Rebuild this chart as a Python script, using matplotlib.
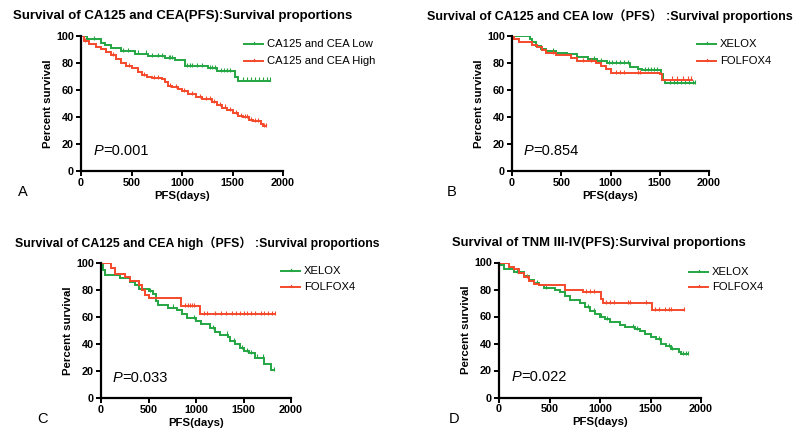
import numpy as np
import matplotlib
matplotlib.use("Agg")
import matplotlib.pyplot as plt
from matplotlib.lines import Line2D

plt.rcParams['font.family'] = ['Liberation Sans', 'Noto Sans CJK SC', 'DejaVu Sans']

GREEN = '#23a641'
RED = '#f5492b'

# ---------------- data (step times in days, survival in %) ----------------
# Panel A
A_low_t = [0, 60, 200, 240, 300, 400, 530, 660, 830, 930, 1025, 1260, 1350, 1525, 1550, 1870]
A_low_s = [100, 98, 95, 93, 91, 89, 87, 85, 83.5, 82, 78, 76, 74, 70, 67, 67]
A_low_c = [130, 420, 470, 560, 640, 700, 760, 800, 870, 880, 900, 1050, 1080, 1100, 1150, 1200, 1280, 1300, 1330, 1390, 1420, 1450, 1480, 1600, 1640, 1680, 1720, 1760, 1800, 1840, 1870]
A_high_t = [0, 30, 80, 150, 200, 250, 300, 350, 400, 450, 500, 560, 600, 650, 700, 800, 830, 860, 900, 960, 1000, 1060, 1140, 1200, 1300, 1350, 1400, 1450, 1500, 1550, 1600, 1660, 1700, 1780, 1800, 1830]
A_high_s = [100, 96, 94, 92, 90, 88, 86, 83, 80, 78, 76, 73, 71, 70, 69, 68, 66, 63, 62, 61, 59, 57, 55, 53, 51, 49, 47, 45, 43, 41, 40, 38, 37, 35, 33, 33]
A_high_c = [40, 320, 480, 620, 720, 760, 880, 940, 1020, 1100, 1180, 1240, 1280, 1320, 1380, 1430, 1480, 1530, 1580, 1620, 1640, 1680, 1720, 1750, 1810, 1830]

# Panel B
B_x_t = [0, 180, 200, 240, 290, 350, 450, 560, 660, 770, 860, 960, 1200, 1280, 1320, 1510, 1530, 1550, 1860]
B_x_s = [100, 98, 96, 93, 91, 89, 88, 87, 85, 83.5, 82, 80, 77, 76, 75, 72, 68, 65.5, 65.5]
B_x_c = [420, 830, 900, 980, 1020, 1060, 1100, 1140, 1180, 1350, 1380, 1410, 1440, 1470, 1600, 1640, 1680, 1720, 1760, 1800, 1840, 1860]
B_f_t = [0, 20, 70, 200, 250, 300, 350, 450, 600, 660, 850, 900, 950, 1000, 1500, 1520, 1830]
B_f_s = [100, 98, 96, 94, 92, 90, 88, 86, 84, 82, 80, 78, 76, 73, 72, 68, 68]
B_f_c = [420, 720, 800, 1060, 1100, 1140, 1280, 1300, 1620, 1680, 1740, 1790, 1820]

# Panel C
C_x_t = [0, 20, 40, 200, 300, 360, 400, 500, 550, 580, 600, 700, 800, 850, 900, 1000, 1050, 1150, 1200, 1250, 1340, 1360, 1410, 1460, 1510, 1560, 1620, 1720, 1790, 1820]
C_x_s = [100, 95, 91, 89, 86, 84, 81, 79, 77, 72, 69, 67, 65, 62, 59, 57, 55, 52, 49, 47, 45, 42, 40, 37, 35, 33, 30, 25, 21, 21]
C_x_c = [420, 520, 760, 980, 1180, 1330, 1400, 1480, 1540, 1580, 1640, 1700, 1820]
C_f_t = [0, 80, 100, 150, 250, 300, 400, 430, 460, 500, 820, 840, 1020, 1040, 1830]
C_f_s = [100, 100, 96, 92, 90, 87, 84, 80, 76, 74, 74, 68, 68, 62, 62]
C_f_c = [880, 920, 940, 960, 980, 1080, 1120, 1200, 1260, 1320, 1380, 1420, 1460, 1500, 1540, 1580, 1620, 1680, 1720, 1760, 1800, 1830]

# Panel D
D_x_t = [0, 20, 50, 150, 250, 300, 350, 400, 450, 550, 600, 650, 700, 800, 850, 900, 950, 1000, 1050, 1100, 1200, 1250, 1350, 1400, 1450, 1500, 1550, 1600, 1650, 1700, 1780, 1800, 1870]
D_x_s = [100, 98, 95, 93, 90, 87, 85, 83, 81, 80, 78, 75, 72, 70, 67, 64, 62, 60, 58, 56, 54, 52, 51, 49, 47, 45, 43, 40, 38, 36, 34, 32, 32]
D_x_c = [180, 380, 470, 880, 940, 1010, 1070, 1330, 1370, 1580, 1680, 1710, 1820, 1850, 1870]
D_f_t = [0, 80, 100, 150, 200, 250, 300, 350, 400, 650, 830, 1010, 1030, 1500, 1510, 1830]
D_f_s = [100, 100, 97, 95, 92, 89, 86, 84, 83, 80, 78, 73, 70, 70, 65, 65]
D_f_c = [60, 280, 860, 900, 940, 1060, 1100, 1140, 1280, 1300, 1460, 1540, 1580, 1640, 1680, 1700, 1830]

titles = ["Survival of CA125 and CEA(PFS):Survival proportions",
          "Survival of CA125 and CEA low\uff08PFS\uff09 :Survival proportions",
          "Survival of CA125 and CEA high\uff08PFS\uff09 :Survival proportions",
          "Survival of TNM III-IV(PFS):Survival proportions"]
legends = [["CA125 and CEA Low", "CA125 and CEA High"],
           ["XELOX", "FOLFOX4"], ["XELOX", "FOLFOX4"], ["XELOX", "FOLFOX4"]]
pvalues = ["=0.001", "=0.854", "=0.033", "=0.022"]
letters = ["A", "B", "C", "D"]
xticks = [0, 500, 1000, 1500, 2000]
yticks = [0, 20, 40, 60, 80, 100]

series = [
    [(A_low_t, A_low_s, A_low_c, GREEN), (A_high_t, A_high_s, A_high_c, RED)],
    [(B_x_t, B_x_s, B_x_c, GREEN), (B_f_t, B_f_s, B_f_c, RED)],
    [(C_x_t, C_x_s, C_x_c, GREEN), (C_f_t, C_f_s, C_f_c, RED)],
    [(D_x_t, D_x_s, D_x_c, GREEN), (D_f_t, D_f_s, D_f_c, RED)],
]

W, H = 800, 438
fig = plt.figure(figsize=(8, 4.38), dpi=100)

# axes boxes in pixels: left, right, top, bottom
boxes = [(81, 283, 36, 171), (512, 709, 36.5, 171), (101, 291, 263, 398), (499, 701, 262.5, 397.5)]
title_pos = [(13, 15.5, 'left'), (427, 16, 'left'), (15, 243, 'left'), (452, 243, 'left')]
title_size = [9.55, 9.0, 8.8, 9.4]
leg_pos = [(244, 44, 61), (697, 44, 61), (281, 271, 287), (689, 272, 287)]
letter_pos = [(23, 192), (452, 192), (42, 419), (454, 419)]


def fx(px):
    return px / W


def fy(py):
    return 1 - py / H


def surv_at(t, s, c):
    idx = np.searchsorted(np.asarray(t), np.asarray(c), side='right') - 1
    return np.asarray(s)[idx]


for i in range(4):
    l, r, tp, bt = boxes[i]
    ax = fig.add_axes([fx(l), fy(bt), (r - l) / W, (bt - tp) / H])
    for (t, s, c, col) in series[i]:
        ax.plot(t, s, drawstyle='steps-post', color=col, lw=1.4, solid_joinstyle='miter')
        ax.plot(c, surv_at(t, s, c) + 0.8, ls='none', marker='|', ms=3, mew=0.8, color=col)
    ax.set_xlim(0, 2000)
    ax.set_ylim(0, 100)
    ax.set_xticks(xticks)
    ax.set_yticks(yticks)
    for sp in ['top', 'right']:
        ax.spines[sp].set_visible(False)
    for sp in ['left', 'bottom']:
        ax.spines[sp].set_linewidth(1.6)
    ax.tick_params(direction='out', length=3.5, width=1.4, labelsize=7.8, pad=1.5)
    for lab in ax.get_xticklabels() + ax.get_yticklabels():
        lab.set_fontweight('bold')
    ax.set_xlabel("PFS(days)", fontsize=8.2, fontweight='bold', labelpad=2)
    ax.set_ylabel("Percent survival", fontsize=8.2, fontweight='bold', labelpad=2)
    ax.patch.set_alpha(0)

    # P-value
    ptxt = ax.text(0.06, 0.12, "P", transform=ax.transAxes, fontsize=10.5, fontstyle='italic',
                   va='baseline', ha='left')
    ax.annotate(pvalues[i], xy=(1, 0), xycoords=ptxt, fontsize=10.5, va='bottom', ha='left')

    # title
    tx, ty, ha = title_pos[i]
    fig.text(fx(tx), fy(ty), titles[i], fontsize=title_size[i], fontweight='bold', ha=ha, va='center')

    # legend
    lx, ly1, ly2 = leg_pos[i]
    for (y, name, col) in [(ly1, legends[i][0], GREEN), (ly2, legends[i][1], RED)]:
        fig.add_artist(Line2D([fx(lx), fx(lx + 19)], [fy(y), fy(y)], color=col, lw=1.4))
        fig.add_artist(Line2D([fx(lx + 9.5), fx(lx + 9.5)], [fy(y), fy(y - 2.5)], color=col, lw=0.9))
        fig.text(fx(lx + 23), fy(y), name, fontsize=8.1, ha='left', va='center')

    # panel letter
    px, py = letter_pos[i]
    fig.text(fx(px), fy(py), letters[i], fontsize=10.5, ha='center', va='center')

fig.savefig("out.png", dpi=100)
